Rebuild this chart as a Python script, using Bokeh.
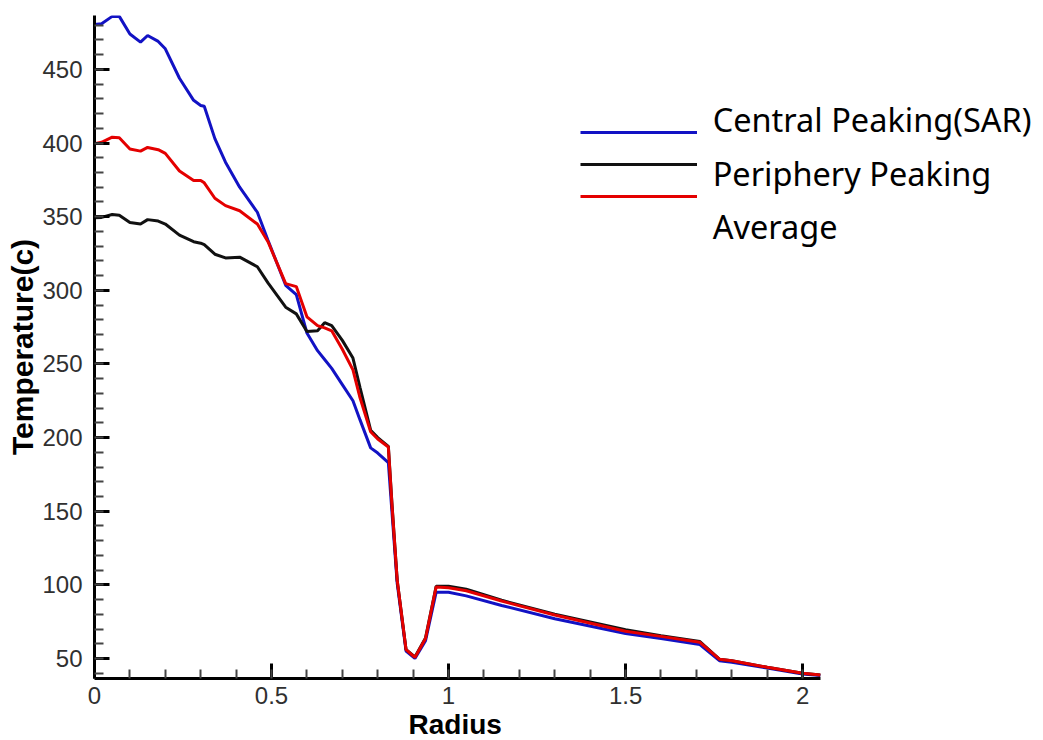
from bokeh.plotting import figure
from bokeh.models import (Range1d, SingleIntervalTicker, NumeralTickFormatter,
                          Legend, LegendItem, Label, Title)
from bokeh.embed import file_html
from bokeh.resources import INLINE

# ---- data ----
radius = [0, 0.02, 0.05, 0.07, 0.10, 0.13, 0.15, 0.18, 0.20, 0.24, 0.28, 0.30, 0.31,
          0.34, 0.37, 0.41, 0.46, 0.49, 0.54, 0.57, 0.60, 0.63, 0.65, 0.67, 0.70,
          0.73, 0.75, 0.78, 0.80, 0.83, 0.84, 0.855, 0.88, 0.905, 0.935, 0.965,
          1.0, 1.05, 1.15, 1.3, 1.5, 1.6, 1.71, 1.765, 1.8, 1.9, 2.0, 2.05]

central_peaking = [480.5, 481, 486, 486, 474, 468.5, 473, 469, 464, 444, 429, 425.5, 425,
                   403, 387, 370, 353, 334, 303.4, 297, 271, 259, 253, 247, 236,
                   225, 212, 193, 189.5, 183, 150, 101, 55, 50, 62, 95,
                   95, 92.5, 86, 77, 67, 63.5, 59.5, 48.5, 47.5, 43.5, 39.5, 38.5]

periphery_peaking = [349.3, 349.5, 351.5, 351, 346, 345, 348, 347, 345, 337.5, 333, 332, 331,
                     324.5, 322, 322.5, 316, 305, 288.5, 284, 272, 272.5, 278, 276, 266,
                     254, 234, 205, 200, 194, 156, 103, 56, 51, 64, 99,
                     99, 97, 89.5, 80, 69.5, 65.5, 61.5, 49.5, 48.5, 44, 40, 38.7]

average = [399.5, 400.5, 404, 403.6, 396, 394.5, 397, 395.5, 393, 381, 374.6, 374.6, 373,
           362.5, 357.5, 354, 345, 333, 304.5, 302.5, 282, 276, 274.5, 272.5, 260,
           246, 227, 204, 199, 193.6, 155, 103, 56, 50.7, 63.6, 98.6,
           98, 96, 89, 79.5, 68.5, 65, 61, 49.5, 48.5, 44, 40, 38.7]

series_names = ["Central Peaking(SAR)", "Periphery Peaking", "Average"]
series_colors = ["#1212c4", "#111111", "#e40000"]

X_MIN, X_MAX = 0, 2.05
Y_MIN, Y_MAX = 36.4, 486.6

# ---- figure ----
# the frame runs to the right edge so that the legend texts are not clipped;
# the x axis itself is bounded to the data range
p = figure(width=1043, height=740, output_backend="svg", toolbar_location=None,
           x_range=Range1d(X_MIN, 2.672), y_range=Range1d(Y_MIN, Y_MAX),
           min_border_left=94, min_border_right=3, min_border_top=15,
           min_border_bottom=62)
p.outline_line_color = None
p.xgrid.visible = False
p.ygrid.visible = False
p.background_fill_color = "white"
p.border_fill_color = "white"

renderers = []
for ys, c in zip([central_peaking, periphery_peaking, average], series_colors):
    r = p.line(radius, ys, line_color=c, line_width=3)
    renderers.append(r)

for ax in (p.xaxis[0], p.yaxis[0]):
    ax.axis_line_width = 3
    ax.axis_line_color = "black"
    ax.major_tick_in = 15
    ax.major_tick_out = 0
    ax.minor_tick_in = 9
    ax.minor_tick_out = 0
    ax.major_tick_line_width = 3
    ax.major_tick_line_color = "black"
    ax.minor_tick_line_width = 2
    ax.minor_tick_line_color = "#444444"
    ax.major_label_text_font = "Liberation Sans"
    ax.major_label_text_font_size = "24px"
    ax.major_label_text_color = "#303030"
    ax.axis_label_text_font = "Liberation Sans"
    ax.axis_label_text_font_style = "bold"
    ax.axis_label_text_color = "black"

p.xaxis[0].bounds = (X_MIN, X_MAX)
p.xaxis[0].ticker = SingleIntervalTicker(interval=0.5, num_minor_ticks=5)
p.yaxis[0].ticker = SingleIntervalTicker(interval=50, num_minor_ticks=5)
p.xaxis[0].formatter = NumeralTickFormatter(format="0.[0]")
p.yaxis[0].axis_label = "Temperature(c)"
p.yaxis[0].axis_label_text_font_size = "30px"
p.xaxis[0].major_label_standoff = 8
p.yaxis[0].major_label_standoff = 12
p.yaxis[0].axis_label_standoff = 0

# x axis title, centred under the bounded axis
p.add_layout(Title(text="Radius", align="left", offset=314, standoff=0,
                   text_font="Liberation Sans", text_font_style="bold",
                   text_font_size="28px", text_color="black"), "below")

# legend swatches (labels drawn separately, as in the reference they are offset)
legend = Legend(items=[LegendItem(label=" ", renderers=[r]) for r in renderers],
                location=(486, 479), padding=0, margin=0, spacing=26,
                glyph_width=117, glyph_height=6, label_height=6, label_width=0,
                label_standoff=0, label_text_font_size="6px",
                border_line_alpha=0, background_fill_alpha=0)
p.add_layout(legend)

label_x = 1.746
label_y = [416.3, 379.6, 343.3]
for name, ly in zip(series_names, label_y):
    p.add_layout(Label(x=label_x, y=ly, text=name, text_font="Noto Sans",
                       text_font_size="32.5px", text_color="black",
                       text_baseline="alphabetic", text_align="left"))

open("out.html", "w").write(file_html(p, INLINE))
